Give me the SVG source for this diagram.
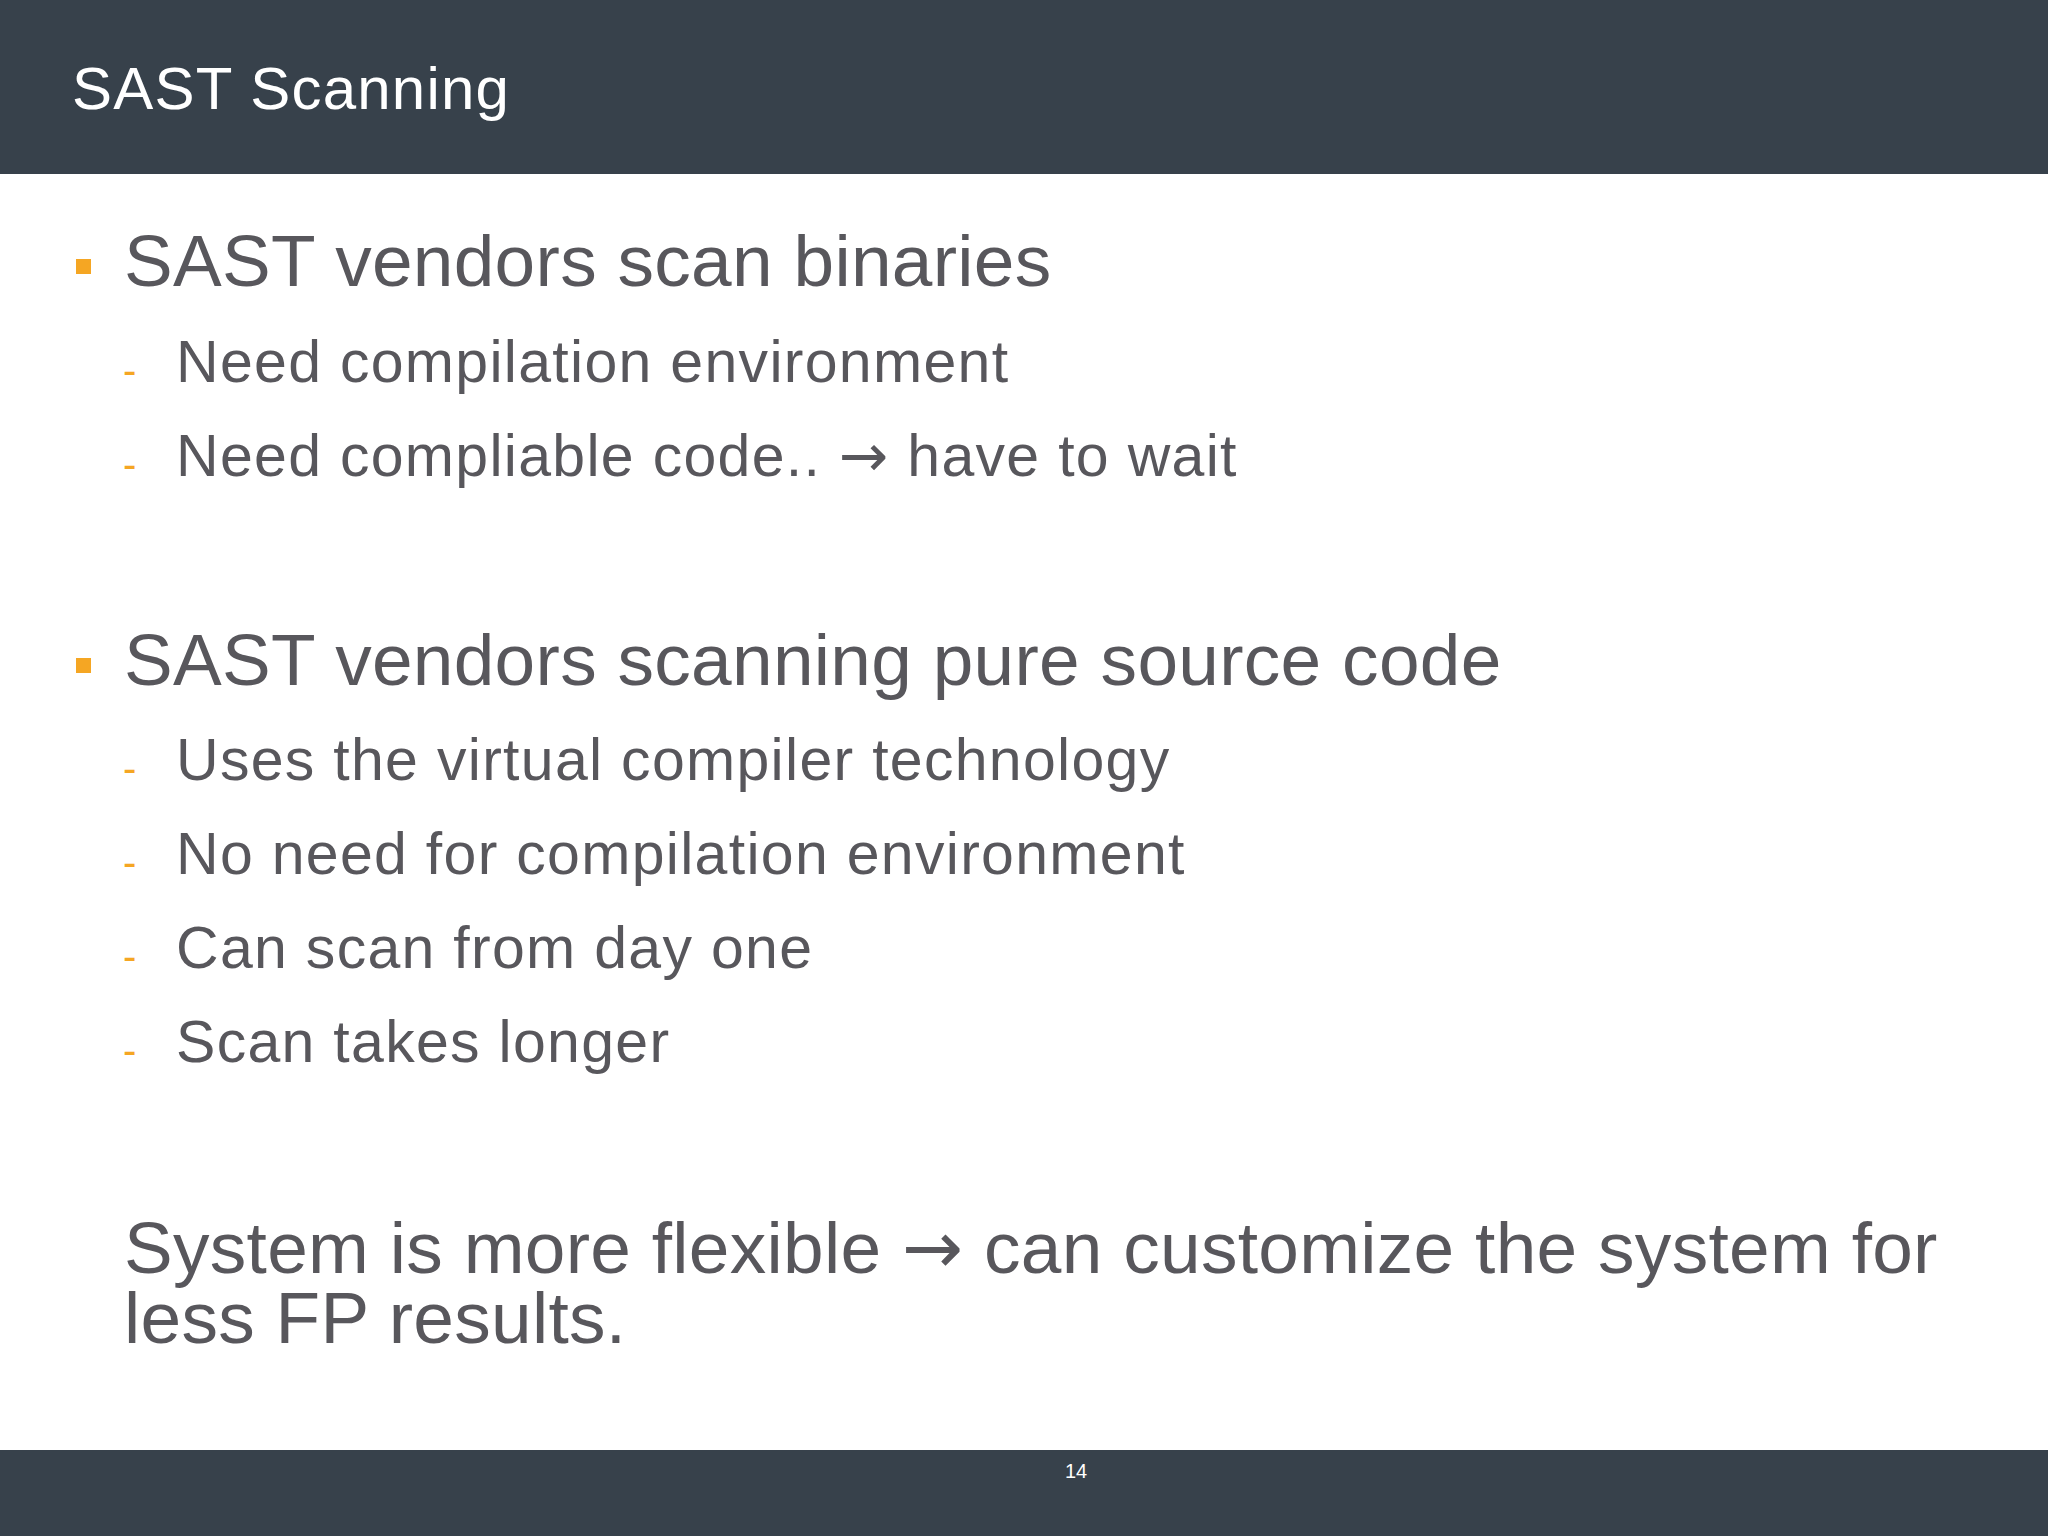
<svg xmlns="http://www.w3.org/2000/svg" width="2048" height="1536" viewBox="0 0 2048 1536">
<style>
.t{font-family:"Liberation Sans",Arial,sans-serif;fill:#58575c}
.b{font-size:73px;letter-spacing:0.3px}
.s{font-size:59px;letter-spacing:1.3px}
.a{font-family:"DejaVu Sans",sans-serif}
.d{fill:#f5a623;font-family:"Liberation Sans",Arial,sans-serif;font-size:40px}
</style>
<rect width="2048" height="1536" fill="#ffffff"/>
<rect width="2048" height="174" fill="#37414b"/>
<rect y="1450" width="2048" height="86" fill="#37414b"/>
<text x="72" y="109" font-family="Liberation Sans,Arial,sans-serif" font-size="60" letter-spacing="1.2" fill="#ffffff">SAST Scanning</text>
<text x="1076" y="1478" font-family="Liberation Sans,Arial,sans-serif" font-size="20" fill="#ffffff" text-anchor="middle">14</text>
<rect x="76" y="259" width="15" height="15" fill="#f5a623"/>
<text class="t b" x="124" y="286">SAST vendors scan binaries</text>
<text class="d" x="123" y="384">-</text><text class="t s" x="176" y="382">Need compilation environment</text>
<text class="d" x="123" y="478">-</text><text class="t s" x="176" y="476">Need compliable code.. <tspan class="a">→</tspan> have to wait</text>
<rect x="76" y="658" width="15" height="15" fill="#f5a623"/>
<text class="t b" x="124" y="685">SAST vendors scanning pure source code</text>
<text class="d" x="123" y="782">-</text><text class="t s" x="176" y="780">Uses the virtual compiler technology</text>
<text class="d" x="123" y="876">-</text><text class="t s" x="176" y="874">No need for compilation environment</text>
<text class="d" x="123" y="970">-</text><text class="t s" x="176" y="968">Can scan from day one</text>
<text class="d" x="123" y="1064">-</text><text class="t s" x="176" y="1062">Scan takes longer</text>
<text class="t b" x="124" y="1273">System is more flexible <tspan class="a">→</tspan> can customize the system for</text>
<text class="t b" x="124" y="1343">less FP results.</text>
</svg>
